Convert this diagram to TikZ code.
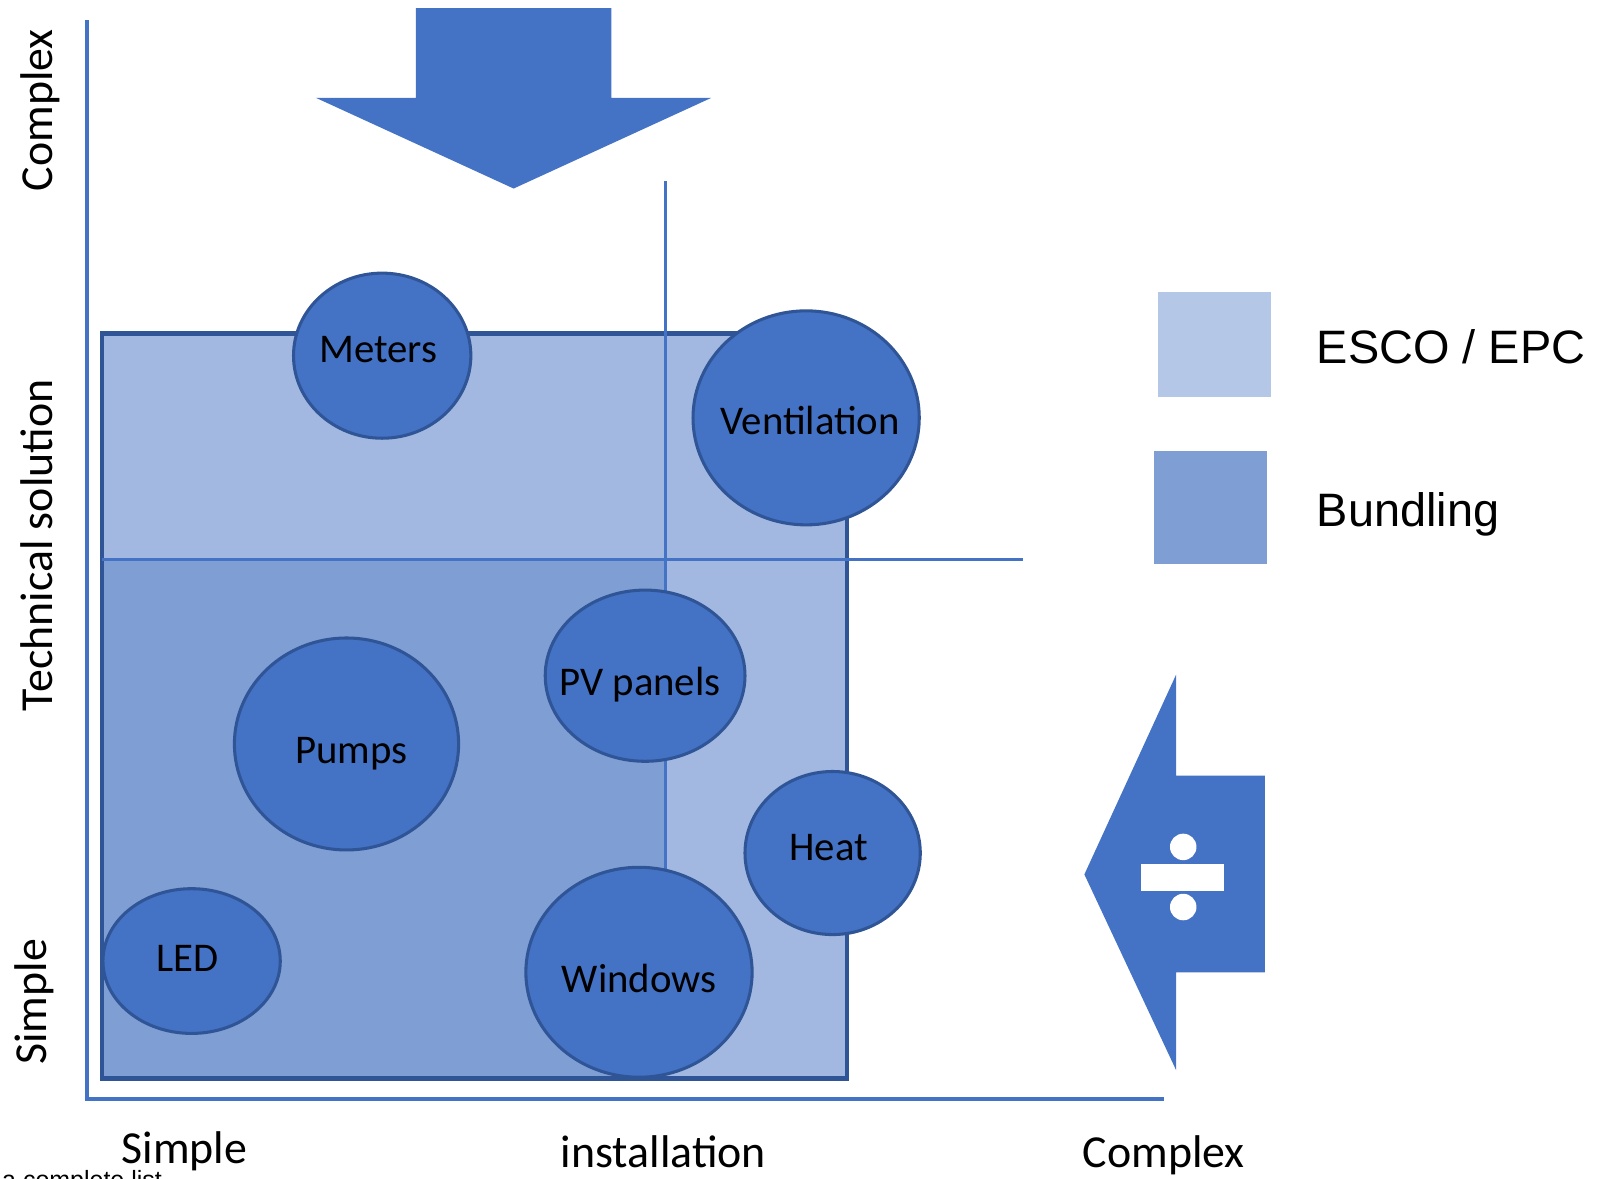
\documentclass[tikz,border=0pt]{standalone}
\usepackage{fontspec}
\setmainfont{Carlito}
\newfontfamily\arialfont{Liberation Sans}
\usetikzlibrary{shapes.geometric}
\definecolor{mainblue}{HTML}{4472C4}
\definecolor{darkblue}{HTML}{2F5597}
\definecolor{lightfill}{HTML}{A2B8E0}
\definecolor{medfill}{HTML}{7F9ED4}
\definecolor{leglight}{HTML}{B4C7E7}
\definecolor{legmed}{HTML}{7F9FD4}
\tikzset{
  bubble/.style={ellipse, draw=darkblue, line width=3pt, fill=mainblue, inner sep=0pt},
  bubbletext/.style={font=\fontsize{40}{48}\selectfont, text=black, inner sep=0pt},
  axislabel/.style={font=\fontsize{45}{54}\selectfont, text=black, inner sep=0pt},
  legendlabel/.style={font=\arialfont\fontsize{46}{55}\selectfont, text=black, inner sep=0pt, anchor=base west},
  gridline/.style={draw=mainblue, line width=3.5pt},
  axisline/.style={draw=mainblue, line width=4pt}
}
\begin{document}
\begin{tikzpicture}[x=1pt,y=-1pt]
\useasboundingbox (0,0) rectangle (1568,1156);
% axes
\draw[axisline] (85,20) -- (85,1078) -- (1142,1078);
% regions
\fill[lightfill] (100,327) rectangle (831,1058);
\fill[medfill] (100,549) rectangle (653,1058);
\draw[draw=darkblue, line width=4.5pt] (100,327) rectangle (831,1058);
% grid lines
\draw[gridline] (100,549) -- (1004,549);
\draw[gridline] (653,178) -- (653,860);
% big down arrow
\fill[mainblue] (408,8) -- (600,8) -- (600,96) -- (698,96) -- (504,185) -- (310,96) -- (408,96) -- cycle;
% left arrow with divide sign
\fill[mainblue] (1064,858) -- (1154,662) -- (1154,761) -- (1241,761) -- (1241,954) -- (1154,954) -- (1154,1050) -- cycle;
\fill[white] (1120,848) rectangle (1201,874);
\fill[white] (1161,831) circle (13);
\fill[white] (1161,890) circle (13);
% bubbles
\node[bubble, minimum width=174pt, minimum height=162pt,
  label={[bubbletext, xshift=-4pt, yshift=6pt]center:Meters}] (meters) at (375,349) {};
\node[bubble, minimum width=222pt, minimum height=210pt,
  label={[bubbletext, xshift=4pt, yshift=-3pt]center:Ventilation}] (vent) at (791,410) {};
\node[bubble, minimum width=196pt, minimum height=168pt,
  label={[bubbletext, xshift=-5pt, yshift=-9pt]center:PV panels}] (pv) at (633,663) {};
\node[bubble, minimum width=220pt, minimum height=208pt,
  label={[bubbletext, xshift=5pt, yshift=-10pt]center:Pumps}] (pumps) at (340,730) {};
\node[bubble, minimum width=172pt, minimum height=160pt,
  label={[bubbletext, xshift=-4pt, yshift=5pt]center:Heat}] (heat) at (817,837) {};
\node[bubble, minimum width=174pt, minimum height=142pt,
  label={[bubbletext, xshift=-4pt, yshift=3pt]center:LED}] (led) at (188,943) {};
\node[bubble, minimum width=222pt, minimum height=206pt,
  label={[bubbletext, xshift=0pt, yshift=-6pt]center:Windows}] (windows) at (627,954) {};
% legend
\fill[leglight] (1136,287) rectangle (1247,390);
\fill[legmed] (1132,443) rectangle (1243,553);
\node[legendlabel] (esco) at (1292,357) {ESCO / EPC};
\node[legendlabel] (bund) at (1292,517) {Bundling};
% axis labels
\node[axislabel, rotate=90, anchor=base] (ycomplex) at (52,108) {Complex};
\node[axislabel, rotate=90, anchor=base] (ytech) at (52,535) {Technical solution};
\node[axislabel, rotate=90, anchor=base] (ysimple) at (46,983) {Simple};
\node[axislabel, anchor=base] (xsimple) at (181,1142) {Simple};
\node[axislabel, anchor=base] (xinst) at (651,1146) {installation};
\node[axislabel, anchor=base] (xcomplex) at (1142,1146) {Complex};
\node[font=\arialfont\fontsize{24.5}{29}\selectfont, anchor=base west, inner sep=0pt] (clist) at (2,1166) {a complete list};
\end{tikzpicture}
\end{document}
